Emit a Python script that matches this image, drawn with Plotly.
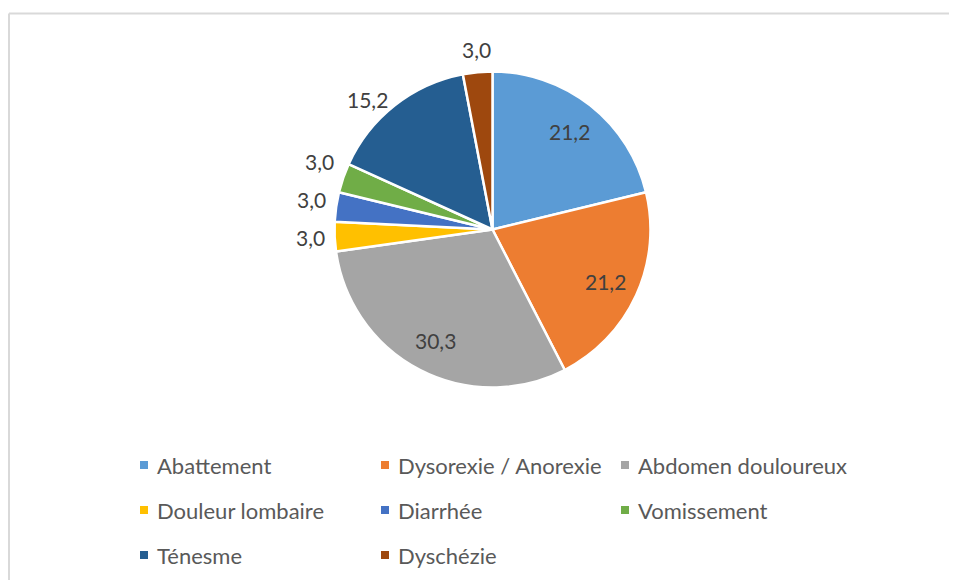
import numpy as np
import plotly.graph_objects as go

labels = ['Abattement', 'Dysorexie / Anorexie', 'Abdomen douloureux', 'Douleur lombaire',
          'Diarrhée', 'Vomissement', 'Ténesme', 'Dyschézie']
values = [21.2, 21.2, 30.3, 3.0, 3.0, 3.0, 15.2, 3.0]
colors = ['#5B9BD5', '#ED7D31', '#A5A5A5', '#FFC000', '#4472C4', '#70AD47', '#255E91', '#9E480E']
inside = [True, True, True, False, False, False, False, False]

W, H = 957, 580
cx, cy, r = 484.5, 221.5, 158  # pie centre / radius in px

pie = go.Pie(
    labels=labels,
    values=values,
    sort=False,
    direction='clockwise',
    rotation=0,
    marker=dict(colors=colors, line=dict(color='white', width=2.5)),
    textinfo='none',
    showlegend=False,
    domain=dict(x=[(cx - r) / W, (cx + r) / W], y=[1 - (cy + r) / H, 1 - (cy - r) / H]),
    hovertemplate='%{label}: %{value:.1f}<extra></extra>',
)

# data labels, placed like Excel's (inside ones far out, outside ones just past the rim)
annotations = []
total = sum(values)
cum = np.cumsum([0] + values[:-1])
last_y = None
for v, c, ins in zip(values, cum, inside):
    ang = np.radians((c + v / 2) / total * 360)
    dx, dy = np.sin(ang), -np.cos(ang)
    if ins:
        px, py = cx + dx * r * 0.79, cy + dy * r * 0.79
        xa, ya = 'center', 'middle'
    else:
        px, py = cx + dx * (r + 8), cy + dy * (r + 8)
        if abs(dx) >= 0.5:
            xa = 'right' if dx < 0 else 'left'
            ya = 'middle'
            # push crowded side labels apart, as Excel does
            if last_y is not None and abs(py - last_y) < 38:
                py = last_y + 38 * np.sign(py - last_y)
            last_y = py
        else:
            xa = 'center'
            ya = 'bottom' if dy < 0 else 'top'
    annotations.append(dict(
        x=px / W, y=1 - py / H, xref='paper', yref='paper',
        text=('%.1f' % v).replace('.', ','), showarrow=False,
        xanchor=xa, yanchor=ya,
        font=dict(family='Lato', size=21, color='#404040'),
    ))

# Excel style legend: 3 columns, widely spaced rows
shapes = []
col_x = [136, 377, 617]
row_y0, row_dy, sq = 457, 45, 8
for n, (lab, col) in enumerate(zip(labels, colors)):
    lx = col_x[n % 3]
    ly = row_y0 + row_dy * (n // 3)
    shapes.append(dict(type='rect', xref='paper', yref='paper',
                       x0=(lx - sq / 2) / W, x1=(lx + sq / 2) / W,
                       y0=1 - (ly + sq / 2) / H, y1=1 - (ly - sq / 2) / H,
                       fillcolor=col, line=dict(width=0)))
    annotations.append(dict(
        x=(lx + 11) / W, y=1 - ly / H, xref='paper', yref='paper',
        text=lab, showarrow=False, xanchor='left', yanchor='middle',
        font=dict(family='Lato', size=22, color='#595959'),
    ))

# chart area border (only top and left edges show in the picture)
shapes += [
    dict(type='line', xref='paper', yref='paper', x0=1 / W, x1=1.05, y0=1 - 5.5 / H, y1=1 - 5.5 / H,
         line=dict(color='#D9D9D9', width=2)),
    dict(type='line', xref='paper', yref='paper', x0=1 / W, x1=1 / W, y0=-0.05, y1=1 - 5.5 / H,
         line=dict(color='#D9D9D9', width=2)),
]

fig = go.Figure(data=[pie])
fig.update_layout(
    width=W, height=H,
    margin=dict(l=0, r=0, t=0, b=0),
    paper_bgcolor='white',
    font=dict(family='Lato', color='#595959'),
    annotations=annotations,
    shapes=shapes,
)

fig.write_html("out.html")
